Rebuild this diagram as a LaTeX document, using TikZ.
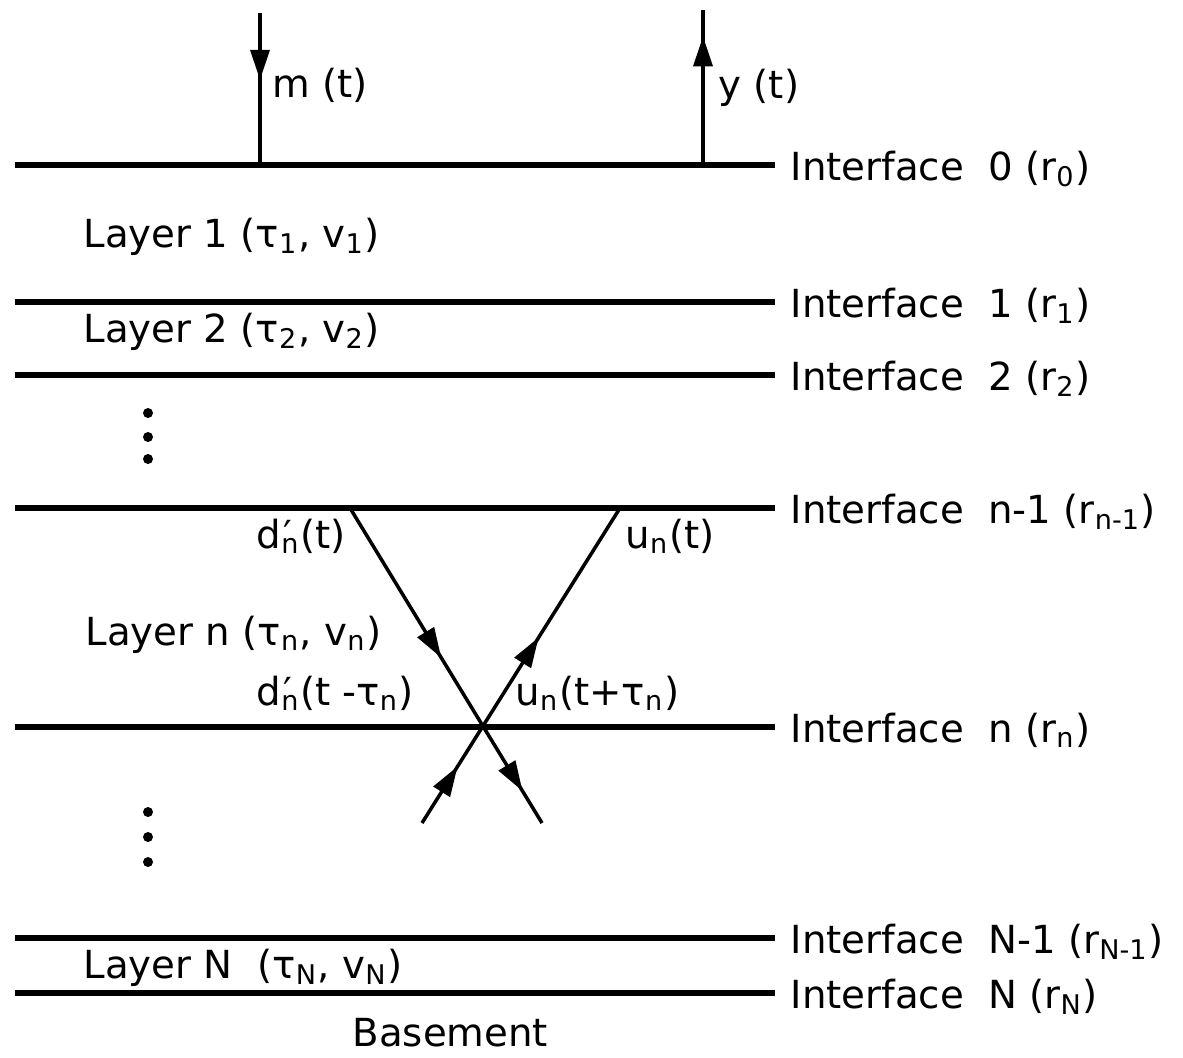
\documentclass[tikz,border=0pt]{standalone}
\usepackage{fontspec}
\setmainfont{DejaVu Sans}
\usetikzlibrary{arrows.meta,decorations.markings}

\newcommand{\sbs}[1]{\textsubscript{#1}}
\newcommand{\dprime}{d\rlap{\kern0.05em′}\sbs{n}}

\begin{document}
\begin{tikzpicture}[
    x=0.01cm, y=-0.01cm,
    iface/.style={line width=1.6pt},
    ray/.style={line width=1pt},
    lbl/.style={font=\fontsize{11}{13}\selectfont, inner sep=0pt, anchor=base west},
    midarrow/.style={postaction={decorate, decoration={markings, mark=at position #1 with {\arrow{Triangle[length=0.3cm, width=0.19cm]}}}}},
    dot/.style={circle, fill, inner sep=0pt, minimum size=0.1cm},
]
\useasboundingbox (0,0) rectangle (1183,1057);
\foreach \yy/\nm/\txt in {165/if0/{0 (r\sbs{0})}, 302/if1/{1 (r\sbs{1})}, 375/if2/{2 (r\sbs{2})}, 508/ifnm/{n-1 (r\sbs{n-1})}, 727/ifn/{n (r\sbs{n})}, 938/ifNm/{N-1 (r\sbs{N-1})}, 993/ifN/{N (r\sbs{N})}} {
  \coordinate (\nm-w) at (15,\yy);
  \coordinate (\nm-e) at (775,\yy);
  \draw[iface] (\nm-w) -- (\nm-e);
  \node[lbl] (\nm-lbl) at (790,\yy+15) {Interface~ \txt};
}
\node[lbl] (lay1) at (83,247) {Layer 1 (τ\sbs{1}, v\sbs{1})};
\node[lbl] (lay2) at (83,342) {Layer 2 (τ\sbs{2}, v\sbs{2})};
\node[lbl] (layn) at (85,645) {Layer n (τ\sbs{n}, v\sbs{n})};
\node[lbl] (layN) at (83,978) {Layer N~ (τ\sbs{N}, v\sbs{N})};
\node[lbl] (base) at (352,1046) {Basement};
\foreach \yy in {413,437,459} \node[dot] (dotup\yy) at (148,\yy) {};
\foreach \yy in {812,837,862} \node[dot] (dotlo\yy) at (148,\yy) {};
\coordinate (mtop) at (260,13);
\coordinate (mfoot) at (260,165);
\coordinate (ytop) at (703,10);
\coordinate (yfoot) at (703,165);
\draw[ray, midarrow=0.44] (mtop) -- (mfoot);
\draw[ray, midarrow=0.83] (yfoot) -- (ytop);
\node[lbl] (mlbl) at (272,97) {m (t)};
\node[lbl] (ylbl) at (718,98) {y (t)};
\coordinate (dtop) at (350,508);
\coordinate (dbot) at (542,823);
\coordinate (utop) at (620,508);
\coordinate (ubot) at (422,823);
\draw[ray, midarrow=0.476, midarrow=0.90] (dtop) -- (dbot);
\draw[ray, midarrow=0.18, midarrow=0.59] (ubot) -- (utop);
\node[lbl] (dlbl) at (256,548) {\dprime(t)};
\node[lbl] (ulbl) at (625,548) {u\sbs{n}(t)};
\node[lbl] (dlbl2) at (256,705) {\dprime(t -τ\sbs{n})};
\node[lbl] (ulbl2) at (515,705) {u\sbs{n}(t+τ\sbs{n})};
\end{tikzpicture}
\end{document}
